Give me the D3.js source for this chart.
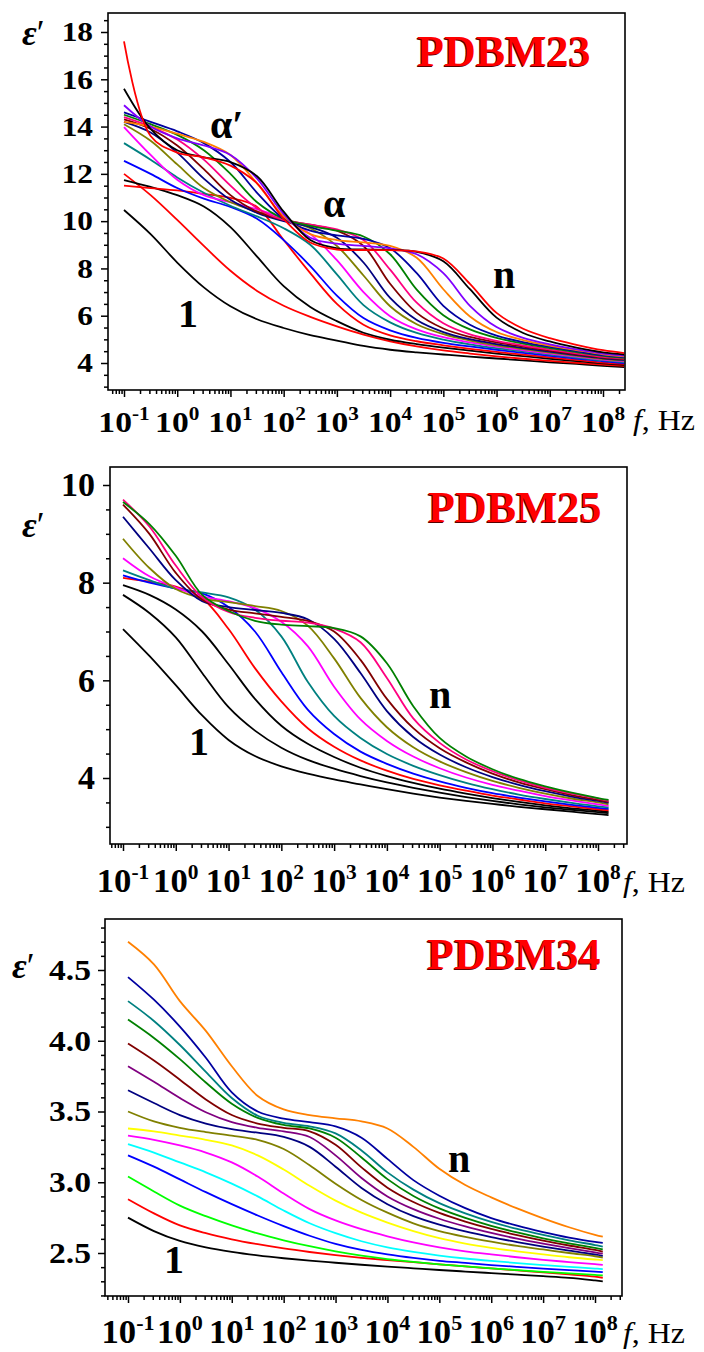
<!DOCTYPE html>
<html>
<head>
<meta charset="utf-8">
<script src="https://cdn.jsdelivr.net/npm/d3@7"></script>
<style>
  body { margin: 0; background: #fff; }
  svg text { font-family: "Liberation Serif", "Times New Roman", serif; }
</style>
</head>
<body>
<svg id="chart" width="704" height="1352"></svg>
<script>
// ---- frequency grids (log10 f, Hz) ----
const logF23 = [-1,-0.5,0,0.5,1,1.5,2,2.5,3,3.5,4,4.5,5,5.5,6,6.5,7,7.5,8,8.4];
const logF25 = [-1,-0.5,0,0.5,1,1.5,2,2.5,3,3.5,4,4.5,5,5.5,6,6.5,7,7.5,8,8.2];
const logF34 = [-1,-0.5,0,0.5,1,1.5,2,2.5,3,3.5,4,4.5,5,5.5,6,6.5,7,7.5,8,8.15];

// ---- tick values ----
const xTickExps = [-1,0,1,2,3,4,5,6,7,8];
const yTicks23 = [4,6,8,10,12,14,16,18];
const yTicks25 = [4,6,8,10];
const yTicks34 = [2.5,3.0,3.5,4.0,4.5];

// ---- PDBM23: eps' curves, lowest temperature (1) to highest (n) ----
const eps23 = [
  [10.47,9.45,8.25,7.2,6.4,5.85,5.48,5.18,4.95,4.72,4.56,4.45,4.36,4.27,4.19,4.11,4.03,3.96,3.88,3.83],
  [12.0,11.1,10.05,8.95,7.9,7.05,6.42,5.95,5.55,5.2,4.92,4.7,4.53,4.4,4.28,4.18,4.09,4.01,3.93,3.88],
  [11.74,11.45,11.1,10.62,9.75,8.5,7.25,6.37,5.77,5.28,4.99,4.8,4.65,4.52,4.4,4.29,4.18,4.08,3.98,3.92],
  [11.5,11.4,11.3,11.15,10.98,10.6,9.2,7.8,6.5,5.62,5.17,4.92,4.75,4.6,4.47,4.35,4.24,4.13,4.02,3.96],
  [12.55,12.0,11.4,10.95,10.6,10.1,9.2,8.1,6.85,5.9,5.38,5.06,4.85,4.7,4.56,4.43,4.3,4.19,4.07,4.0],
  [13.3,12.6,11.85,11.2,10.65,10.2,9.7,9.0,7.75,6.45,5.72,5.27,4.99,4.79,4.63,4.49,4.36,4.23,4.11,4.04],
  [13.98,12.8,11.75,11.1,10.8,10.5,10.1,9.45,8.35,7.0,5.98,5.42,5.09,4.87,4.69,4.54,4.4,4.27,4.14,4.07],
  [14.1,13.4,12.4,11.4,10.8,10.4,10.05,9.7,8.95,7.7,6.4,5.64,5.22,4.95,4.75,4.59,4.44,4.3,4.17,4.1],
  [14.2,13.75,12.9,11.8,10.9,10.35,10.0,9.75,9.3,8.25,6.75,5.82,5.31,5.01,4.8,4.63,4.48,4.33,4.2,4.13],
  [14.3,13.9,13.2,12.2,11.1,10.4,10.05,9.85,9.6,8.95,7.35,6.12,5.46,5.1,4.87,4.69,4.52,4.37,4.23,4.16],
  [14.4,14.0,13.45,12.6,11.5,10.55,10.05,9.85,9.65,9.2,7.95,6.55,5.68,5.21,4.94,4.74,4.57,4.41,4.26,4.19],
  [14.5,14.1,13.65,13.0,12.0,10.8,10.1,9.8,9.6,9.35,8.6,7.1,6.02,5.42,5.06,4.82,4.63,4.46,4.3,4.22],
  [14.6,14.2,13.8,13.3,12.5,11.2,10.1,9.6,9.4,9.25,8.85,7.8,6.42,5.62,5.16,4.88,4.68,4.5,4.33,4.25],
  [14.2,14.0,13.7,13.35,12.8,11.6,10.2,9.45,9.2,9.1,8.95,8.45,7.12,5.97,5.31,4.97,4.74,4.55,4.37,4.28],
  [14.9,14.0,13.5,13.2,12.8,11.8,10.3,9.3,9.05,8.95,8.85,8.6,7.8,6.42,5.52,5.06,4.79,4.58,4.4,4.31],
  [15.6,13.9,13.0,12.7,12.5,11.9,10.4,9.2,8.85,8.8,8.78,8.7,8.3,7.12,5.92,5.27,4.91,4.65,4.45,4.36],
  [17.6,13.6,12.9,12.7,12.35,11.6,10.1,9.1,8.8,8.78,8.77,8.72,8.42,7.35,6.12,5.45,5.05,4.77,4.54,4.42]
];
const colors23 = ["#000000","#ff0000","#000000","#ff0000","#0000ff","#008080","#ff00ff","#808000",
  "#000080","#800000","#ff0080","#008000","#0000a0","#ff8000","#8000ff","#000000","#ff0000"];

// ---- PDBM25 ----
const eps25 = [
  [7.05,6.5,5.9,5.28,4.78,4.45,4.24,4.09,3.97,3.87,3.77,3.68,3.6,3.53,3.47,3.41,3.36,3.31,3.26,3.24],
  [7.75,7.38,6.88,6.15,5.45,4.97,4.62,4.37,4.19,4.04,3.91,3.8,3.7,3.61,3.53,3.46,3.40,3.35,3.30,3.28],
  [7.95,7.75,7.45,7.0,6.33,5.62,5.07,4.7,4.43,4.21,4.04,3.9,3.78,3.68,3.59,3.51,3.44,3.38,3.33,3.31],
  [8.1,8.02,7.92,7.68,7.05,6.25,5.57,5.02,4.64,4.36,4.15,3.98,3.85,3.74,3.64,3.56,3.48,3.42,3.36,3.34],
  [8.15,8.0,7.88,7.78,7.5,7.0,6.17,5.4,4.9,4.54,4.29,4.09,3.93,3.8,3.69,3.6,3.52,3.45,3.39,3.37],
  [8.25,8.05,7.88,7.8,7.7,7.45,6.9,5.97,5.27,4.82,4.49,4.25,4.06,3.9,3.77,3.66,3.57,3.49,3.42,3.40],
  [8.5,8.13,7.9,7.72,7.62,7.48,7.2,6.7,5.87,5.2,4.76,4.44,4.2,4.01,3.86,3.74,3.63,3.54,3.46,3.43],
  [8.9,8.3,7.87,7.68,7.6,7.52,7.42,7.12,6.45,5.64,5.04,4.63,4.34,4.12,3.94,3.80,3.68,3.58,3.50,3.46],
  [9.35,8.7,8.05,7.62,7.5,7.44,7.38,7.25,6.85,6.15,5.37,4.84,4.48,4.22,4.02,3.86,3.73,3.62,3.53,3.49],
  [9.6,9.0,8.2,7.65,7.45,7.37,7.3,7.22,7.0,6.42,5.62,5.02,4.61,4.32,4.09,3.91,3.77,3.65,3.55,3.51],
  [9.7,9.15,8.35,7.7,7.4,7.28,7.22,7.18,7.06,6.78,6.05,5.22,4.72,4.38,4.14,3.95,3.8,3.68,3.58,3.53],
  [9.65,9.2,8.55,7.75,7.42,7.22,7.14,7.11,7.07,6.9,6.35,5.47,4.82,4.44,4.18,3.98,3.83,3.7,3.59,3.55]
];
const colors25 = ["#000000","#000000","#000000","#ff0000","#0000ff","#008080","#ff00ff","#808000",
  "#000080","#800000","#ff0080","#008000"];

// ---- PDBM34 ----
const eps34 = [
  [2.75,2.655,2.585,2.54,2.508,2.483,2.463,2.446,2.431,2.417,2.404,2.392,2.38,2.369,2.358,2.347,2.336,2.324,2.306,2.30],
  [2.88,2.78,2.695,2.64,2.597,2.562,2.532,2.507,2.485,2.466,2.45,2.435,2.42,2.405,2.391,2.377,2.363,2.349,2.333,2.325],
  [3.04,2.935,2.835,2.76,2.695,2.638,2.59,2.548,2.512,2.482,2.457,2.437,2.42,2.405,2.392,2.379,2.367,2.356,2.345,2.342],
  [3.19,3.11,3.02,2.93,2.845,2.765,2.69,2.622,2.565,2.522,2.49,2.465,2.445,2.43,2.415,2.402,2.39,2.379,2.369,2.365],
  [3.27,3.21,3.14,3.07,2.99,2.9,2.8,2.71,2.64,2.583,2.54,2.508,2.482,2.461,2.444,2.429,2.415,2.402,2.39,2.386],
  [3.33,3.30,3.26,3.21,3.14,3.04,2.92,2.81,2.73,2.668,2.618,2.575,2.54,2.512,2.49,2.47,2.452,2.436,2.421,2.416],
  [3.38,3.36,3.33,3.30,3.26,3.19,3.09,2.975,2.87,2.785,2.715,2.655,2.605,2.567,2.537,2.512,2.49,2.47,2.454,2.45],
  [3.50,3.43,3.385,3.355,3.33,3.30,3.235,3.12,2.99,2.875,2.785,2.71,2.655,2.614,2.58,2.55,2.525,2.50,2.477,2.467],
  [3.65,3.56,3.475,3.415,3.375,3.35,3.32,3.25,3.11,2.96,2.845,2.76,2.7,2.652,2.612,2.577,2.545,2.516,2.49,2.48],
  [3.82,3.71,3.595,3.495,3.425,3.385,3.36,3.32,3.19,3.03,2.9,2.81,2.742,2.688,2.642,2.601,2.566,2.534,2.505,2.495],
  [3.98,3.86,3.725,3.585,3.475,3.415,3.385,3.36,3.265,3.105,2.962,2.86,2.783,2.722,2.67,2.626,2.587,2.553,2.522,2.51],
  [4.15,4.02,3.87,3.705,3.555,3.455,3.405,3.38,3.315,3.175,3.022,2.903,2.815,2.748,2.692,2.645,2.604,2.568,2.536,2.525],
  [4.28,4.14,3.97,3.78,3.595,3.47,3.42,3.395,3.345,3.225,3.07,2.948,2.852,2.78,2.72,2.67,2.628,2.59,2.556,2.545],
  [4.45,4.29,4.10,3.88,3.635,3.5,3.45,3.425,3.395,3.315,3.165,3.015,2.905,2.817,2.747,2.693,2.648,2.609,2.578,2.572],
  [4.70,4.54,4.28,4.07,3.82,3.61,3.515,3.475,3.452,3.43,3.38,3.25,3.095,2.98,2.893,2.815,2.745,2.682,2.628,2.615]
];
const colors34 = ["#000000","#ff0000","#00ff00","#0000ff","#00ffff","#ff00ff","#ffff00","#808000",
  "#000080","#800080","#800000","#008000","#008080","#0000a0","#ff8000"];

// ---- panel layout ----
const panels = [
  { title: "PDBM23", logF: logF23, eps: eps23, colors: colors23, yTicks: yTicks23, yFmt: d3.format("d"),
    frame: {l:108, r:625, t:13, b:390}, xr: [124, 603], yd: [4, 18], yr: [363, 32], yMinor: 0.5,
    yLab: {x:93, size:28, sx:1.12}, xLab: {y:432, size:30, sx:1.12, sup:19, dy:-12},
    fHz: {x:633, y:430}, titlePos: {x:417, y:66}, epsPos: {x:22, y:45},
    notes: [{t:"\u03b1\u2032", x:210, y:138}, {t:"\u03b1", x:323, y:217}, {t:"n", x:493, y:288}, {t:"1", x:178, y:327}] },
  { title: "PDBM25", logF: logF25, eps: eps25, colors: colors25, yTicks: yTicks25, yFmt: d3.format("d"),
    frame: {l:110, r:627, t:467, b:844}, xr: [123, 598], yd: [4, 10], yr: [778, 485], yMinor: 0.5,
    yLab: {x:95, size:34, sx:1.0}, xLab: {y:892, size:34, sx:1.02, sup:21, dy:-13},
    fHz: {x:623, y:892}, titlePos: {x:428, y:522}, epsPos: {x:22, y:537},
    notes: [{t:"n", x:429, y:708}, {t:"1", x:189, y:755}] },
  { title: "PDBM34", logF: logF34, eps: eps34, colors: colors34, yTicks: yTicks34, yFmt: d3.format(".1f"),
    frame: {l:105, r:622, t:919, b:1296}, xr: [128, 595], yd: [2.5, 4.5], yr: [1253, 970], yMinor: 0.1,
    yLab: {x:91, size:30, sx:1.12}, xLab: {y:1343, size:33, sx:1.05, sup:21, dy:-13},
    fHz: {x:623, y:1343}, titlePos: {x:427, y:969}, epsPos: {x:12, y:978},
    notes: [{t:"n", x:448, y:1172}, {t:"1", x:164, y:1273}] }
];

const svg = d3.select("#chart");

function drawPanel(p) {
  const g = svg.append("g");
  const x = d3.scaleLog().domain([0.1, 1e8]).range(p.xr);
  const y = d3.scaleLinear().domain(p.yd).range(p.yr);
  const F = p.frame;

  const clipId = "clip-" + p.title;
  g.append("clipPath").attr("id", clipId)
    .append("rect").attr("x", F.l).attr("y", F.t).attr("width", F.r - F.l).attr("height", F.b - F.t);

  // curves
  const line = d3.line()
    .x((d, i) => x(Math.pow(10, p.logF[i])))
    .y(d => y(d))
    .curve(d3.curveCatmullRom.alpha(0.5));
  const cg = g.append("g").attr("clip-path", `url(#${clipId})`);
  p.eps.forEach((vals, k) => {
    cg.append("path").attr("d", line(vals))
      .attr("fill", "none").attr("stroke", p.colors[k])
      .attr("stroke-width", 1.8).attr("stroke-linejoin", "round");
  });

  // frame
  g.append("rect").attr("x", F.l).attr("y", F.t).attr("width", F.r - F.l).attr("height", F.b - F.t)
    .attr("fill", "none").attr("stroke", "#000").attr("stroke-width", 1.6);

  // x axis ticks (log: decades major, 2..9 minor)
  const fLo = x.invert(F.l), fHi = x.invert(F.r);
  const major = [], minor = [];
  for (let e = -3; e <= 9; e++) {
    for (let m = 1; m <= 9; m++) {
      const v = m * Math.pow(10, e);
      if (v < fLo || v > fHi) continue;
      (m === 1 ? major : minor).push(v);
    }
  }
  const axStyle = sel => {
    sel.select(".domain").remove();
    sel.selectAll(".tick line").attr("stroke", "#000").attr("stroke-width", 1.5);
    sel.selectAll(".tick text").remove();
  };
  g.append("g").attr("transform", `translate(0,${F.b})`)
    .call(d3.axisBottom(x).tickValues(minor).tickSize(4).tickFormat(""))
    .call(axStyle);
  g.append("g").attr("transform", `translate(0,${F.b})`)
    .call(d3.axisBottom(x).tickValues(major).tickSize(7).tickFormat(""))
    .call(axStyle);

  // y axis ticks
  const yLo = y.invert(F.b), yHi = y.invert(F.t);
  const yMinorVals = [];
  for (let v = Math.ceil(yLo / p.yMinor) * p.yMinor; v <= yHi + 1e-9; v += p.yMinor) {
    const r = +v.toFixed(3);
    if (!p.yTicks.some(t => Math.abs(t - r) < 1e-6)) yMinorVals.push(r);
  }
  g.append("g").attr("transform", `translate(${F.l},0)`)
    .call(d3.axisLeft(y).tickValues(yMinorVals).tickSize(4).tickFormat(""))
    .call(axStyle);
  g.append("g").attr("transform", `translate(${F.l},0)`)
    .call(d3.axisLeft(y).tickValues(p.yTicks).tickSize(7).tickFormat(""))
    .call(axStyle);

  // y tick labels
  p.yTicks.forEach(t => {
    g.append("text")
      .attr("transform", `translate(${p.yLab.x},${y(t) + p.yLab.size * 0.33}) scale(${p.yLab.sx},1)`)
      .attr("text-anchor", "end").attr("font-size", p.yLab.size).attr("font-weight", "bold")
      .text(p.yFmt(t));
  });

  // x tick labels: 10^n
  xTickExps.forEach(e => {
    const t = g.append("text")
      .attr("transform", `translate(${x(Math.pow(10, e))},${p.xLab.y}) scale(${p.xLab.sx},1)`)
      .attr("text-anchor", "middle").attr("font-size", p.xLab.size).attr("font-weight", "bold");
    t.append("tspan").text("10");
    t.append("tspan").attr("dy", p.xLab.dy).attr("font-size", p.xLab.sup).text(e);
  });

  // axis name f, Hz
  const fz = g.append("text")
    .attr("transform", `translate(${p.fHz.x},${p.fHz.y}) scale(1.1,1)`)
    .attr("font-size", 29);
  fz.append("tspan").attr("font-style", "italic").text("f");
  fz.append("tspan").text(", Hz");

  // eps' label
  const ep = g.append("text").attr("x", p.epsPos.x).attr("y", p.epsPos.y)
    .attr("font-size", 36).attr("font-style", "italic").attr("font-weight", "bold");
  ep.append("tspan").text("\u03b5");
  ep.append("tspan").attr("font-style", "normal").attr("font-weight", "normal").text("\u2032");

  // sample name with dark shadow
  g.append("text").attr("x", p.titlePos.x - 1).attr("y", p.titlePos.y + 1)
    .attr("font-size", 44).attr("font-weight", "bold").attr("fill", "#5a0000").text(p.title);
  g.append("text").attr("x", p.titlePos.x).attr("y", p.titlePos.y)
    .attr("font-size", 44).attr("font-weight", "bold").attr("fill", "#ff0000").text(p.title);

  // curve annotations
  p.notes.forEach(n => {
    g.append("text").attr("x", n.x).attr("y", n.y)
      .attr("font-size", 40).attr("font-weight", "bold").text(n.t);
  });
}

panels.forEach(drawPanel);
</script>
</body>
</html>
